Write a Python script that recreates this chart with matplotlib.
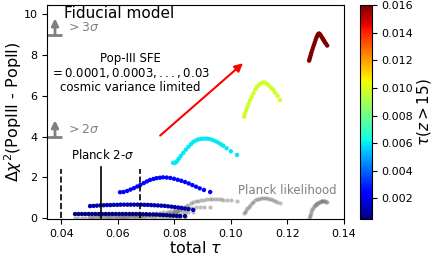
import matplotlib
matplotlib.use("Agg")
import matplotlib.pyplot as plt
import numpy as np

# SFE-series colour values tau(z>15)
series_c = [0.0005, 0.0012, 0.0025, 0.0060, 0.0098, 0.0160]

# cosmic-variance-limited series (total tau, delta chi2)
tau_cv0 = [0.0449, 0.0461, 0.0473, 0.0485, 0.0497, 0.0509, 0.0521, 0.0533, 0.0545, 0.0557,
           0.0569, 0.0581, 0.0593, 0.0605, 0.0617, 0.0629, 0.0641, 0.0653, 0.0665, 0.0677,
           0.0689, 0.0701, 0.0713, 0.0725, 0.0737, 0.0749, 0.0761, 0.0773, 0.0785, 0.0797,
           0.0809, 0.0821, 0.0838]
chi_cv0 = [0.20, 0.20, 0.20, 0.20, 0.20, 0.20, 0.20, 0.20, 0.20, 0.20,
           0.20, 0.20, 0.20, 0.20, 0.20, 0.20, 0.20, 0.20, 0.20, 0.20,
           0.19, 0.19, 0.18, 0.18, 0.17, 0.16, 0.15, 0.14, 0.13, 0.12,
           0.11, 0.10, 0.10]
tau_cv1 = [0.0502, 0.0514, 0.0526, 0.0538, 0.0550, 0.0562, 0.0574, 0.0586, 0.0598, 0.0610,
           0.0622, 0.0634, 0.0646, 0.0658, 0.0670, 0.0682, 0.0694, 0.0706, 0.0718, 0.0730,
           0.0742, 0.0754, 0.0766, 0.0778, 0.0790, 0.0802, 0.0814, 0.0826, 0.0838, 0.0850,
           0.0867]
chi_cv1 = [0.59, 0.60, 0.61, 0.62, 0.63, 0.64, 0.64, 0.65, 0.65, 0.66,
           0.66, 0.66, 0.66, 0.66, 0.66, 0.66, 0.65, 0.65, 0.64, 0.63,
           0.62, 0.61, 0.60, 0.58, 0.56, 0.54, 0.52, 0.50, 0.47, 0.44,
           0.40]
tau_cv2 = [0.0608, 0.0620, 0.0633, 0.0645, 0.0657, 0.0669, 0.0680, 0.0692, 0.0703, 0.0714,
           0.0726, 0.0737, 0.0749, 0.0760, 0.0773, 0.0786, 0.0799, 0.0812, 0.0825, 0.0838,
           0.0851, 0.0864, 0.0877, 0.0890, 0.0905, 0.0927]
chi_cv2 = [1.27, 1.28, 1.33, 1.40, 1.47, 1.55, 1.63, 1.72, 1.80, 1.87,
           1.92, 1.96, 1.98, 2.00, 1.99, 1.97, 1.93, 1.88, 1.83, 1.77,
           1.70, 1.62, 1.54, 1.46, 1.38, 1.28]
tau_cv3 = [0.0796, 0.0800, 0.0805, 0.0810, 0.0816, 0.0823, 0.0832, 0.0841, 0.0850, 0.0859,
           0.0867, 0.0876, 0.0885, 0.0895, 0.0905, 0.0915, 0.0925, 0.0935, 0.0945, 0.0955,
           0.0964, 0.0973, 0.0985, 0.1000, 0.1022]
chi_cv3 = [2.71, 2.70, 2.73, 2.80, 2.92, 3.05, 3.20, 3.36, 3.50, 3.63,
           3.74, 3.81, 3.86, 3.89, 3.90, 3.90, 3.88, 3.84, 3.78, 3.71,
           3.63, 3.55, 3.43, 3.28, 3.10]
tau_cv4 = [0.1047, 0.1050, 0.1054, 0.1058, 0.1063, 0.1068, 0.1074, 0.1080, 0.1086, 0.1093,
           0.1100, 0.1107, 0.1114, 0.1121, 0.1128, 0.1135, 0.1142, 0.1150, 0.1157, 0.1165,
           0.1174]
chi_cv4 = [4.98, 5.12, 5.28, 5.44, 5.60, 5.78, 5.95, 6.12, 6.30, 6.44,
           6.55, 6.62, 6.66, 6.65, 6.58, 6.50, 6.40, 6.30, 6.15, 6.00,
           5.80]
tau_cv5 = [0.1277, 0.1279, 0.1281, 0.1283, 0.1285, 0.1288, 0.1291, 0.1294, 0.1297, 0.1300,
           0.1303, 0.1306, 0.1309, 0.1312, 0.1315, 0.1318, 0.1321, 0.1324, 0.1327, 0.1330,
           0.1333, 0.1336, 0.1341]
chi_cv5 = [7.73, 7.82, 7.92, 8.02, 8.12, 8.25, 8.38, 8.50, 8.62, 8.75,
           8.86, 8.96, 9.03, 9.06, 9.03, 8.97, 8.90, 8.83, 8.77, 8.70,
           8.63, 8.57, 8.47]

# Planck-likelihood series (grey)
tau_pl0 = tau_cv0
chi_pl0 = [0.02, 0.02, 0.02, 0.02, 0.03, 0.03, 0.03, 0.03, 0.03, 0.03,
           0.03, 0.03, 0.03, 0.04, 0.04, 0.04, 0.04, 0.04, 0.04, 0.05,
           0.05, 0.05, 0.05, 0.05, 0.05, 0.06, 0.06, 0.06, 0.06, 0.06,
           0.06, 0.06, 0.06]
tau_pl1 = tau_cv1
chi_pl1 = [0.02, 0.02, 0.03, 0.03, 0.03, 0.04, 0.04, 0.05, 0.05, 0.06,
           0.07, 0.08, 0.09, 0.10, 0.11, 0.12, 0.13, 0.14, 0.15, 0.17,
           0.18, 0.20, 0.21, 0.23, 0.24, 0.26, 0.27, 0.28, 0.29, 0.30,
           0.30]
tau_pl2 = tau_cv2
chi_pl2 = [0.05, 0.06, 0.07, 0.08, 0.09, 0.10, 0.12, 0.14, 0.16, 0.18,
           0.20, 0.23, 0.26, 0.29, 0.32, 0.35, 0.38, 0.41, 0.44, 0.47,
           0.49, 0.51, 0.53, 0.54, 0.55, 0.54]
tau_pl3 = tau_cv3
chi_pl3 = [0.30, 0.31, 0.33, 0.36, 0.40, 0.45, 0.52, 0.59, 0.66, 0.72,
           0.78, 0.82, 0.86, 0.89, 0.91, 0.92, 0.93, 0.93, 0.93, 0.93,
           0.92, 0.91, 0.90, 0.88, 0.86]
tau_pl4 = tau_cv4
chi_pl4 = [0.25, 0.32, 0.40, 0.48, 0.56, 0.64, 0.72, 0.80, 0.87, 0.92,
           0.96, 0.99, 1.00, 1.00, 0.98, 0.96, 0.93, 0.89, 0.85, 0.80,
           0.74]
tau_pl5 = tau_cv5
chi_pl5 = [0.00, 0.08, 0.17, 0.26, 0.34, 0.44, 0.52, 0.58, 0.62, 0.64,
           0.68, 0.72, 0.76, 0.79, 0.81, 0.83, 0.84, 0.84, 0.84, 0.83,
           0.82, 0.81, 0.80]

planck_lines = [0.040, 0.054, 0.068]
planck_styles = ["--", "-", "--"]
planck_tops = [2.4, 2.5, 2.4]

sigma_levels = [4, 9]
sigma_labels = [r"$> 2\sigma$", r"$> 3\sigma$"]

xticks = [0.04, 0.06, 0.08, 0.10, 0.12, 0.14]
yticks = [0, 2, 4, 6, 8, 10]
cticks = [0.002, 0.004, 0.006, 0.008, 0.010, 0.012, 0.014, 0.016]

fig = plt.figure(figsize=(4.32, 2.59), dpi=100)
ax = fig.add_axes([0.109, 0.154, 0.687, 0.826])
cax = fig.add_axes([0.833, 0.154, 0.028, 0.826])

cmap = plt.get_cmap("jet")
norm = matplotlib.colors.Normalize(vmin=0.0005, vmax=0.016)

taus_cv = [tau_cv0, tau_cv1, tau_cv2, tau_cv3, tau_cv4, tau_cv5]
chis_cv = [chi_cv0, chi_cv1, chi_cv2, chi_cv3, chi_cv4, chi_cv5]
taus_pl = [tau_pl0, tau_pl1, tau_pl2, tau_pl3, tau_pl4, tau_pl5]
chis_pl = [chi_pl0, chi_pl1, chi_pl2, chi_pl3, chi_pl4, chi_pl5]

for t, c in zip(taus_pl, chis_pl):
    ax.scatter(t, c, s=9, color="gray", alpha=0.5, linewidths=0, zorder=2)
for t, c, cv in zip(taus_cv, chis_cv, series_c):
    ax.scatter(t, c, s=10, c=[cv] * len(t), cmap=cmap, norm=norm, linewidths=0, zorder=3)

for x, ls, top in zip(planck_lines, planck_styles, planck_tops):
    ax.plot([x, x], [0, top], color="black", ls=ls, lw=1.2, zorder=4)

for lev, lab in zip(sigma_levels, sigma_labels):
    ax.plot([0.035, 0.0403], [lev, lev], color="gray", lw=2.0, solid_capstyle="butt")
    ax.annotate("", xy=(0.0378, lev + 0.8), xytext=(0.0378, lev),
                arrowprops=dict(arrowstyle="-|>", color="gray", lw=2.0, mutation_scale=10,
                                shrinkA=0, shrinkB=0))
    ax.text(0.0417, lev + 0.33, lab, color="gray", fontsize=9, va="center", ha="left")

ax.annotate("", xy=(0.1043, 7.6), xytext=(0.0750, 4.05),
            arrowprops=dict(arrowstyle="-|>", color="red", lw=1.5, mutation_scale=12,
                            shrinkA=0, shrinkB=0))

ax.text(0.0410, 10.05, "Fiducial model", fontsize=11, va="center", ha="left")
ax.text(0.0645, 7.1, "Pop-III SFE\n" + r"$= 0.0001, 0.0003, ..., 0.03$" + "\ncosmic variance limited",
        fontsize=8.5, ha="center", va="center", linespacing=1.1)
ax.text(0.0433, 3.1, r"Planck 2-$\sigma$", fontsize=8.5, ha="left", va="center")
ax.text(0.1026, 1.33, "Planck likelihood", fontsize=8.5, ha="left", va="center", color="gray")

ax.set_xlim(0.035, 0.14)
ax.set_ylim(-0.05, 10.45)
ax.set_xticks(xticks)
ax.set_xticklabels(["%.2f" % v for v in xticks])
ax.set_yticks(yticks)
ax.tick_params(labelsize=8)
ax.set_xlabel(r"total $\tau$", fontsize=11.5, labelpad=1)
ax.set_ylabel(r"$\Delta\chi^2$(PopIII - PopII)", fontsize=11.5)
ax.yaxis.set_label_coords(-0.078, 0.5)

sm = matplotlib.cm.ScalarMappable(norm=norm, cmap=cmap)
cb = fig.colorbar(sm, cax=cax, ticks=cticks)
cb.ax.set_yticklabels(["%.3f" % v for v in cticks])
cb.ax.tick_params(labelsize=8)
cb.set_label(r"$\tau(z > 15)$", fontsize=11, labelpad=1)

fig.savefig("out.png", dpi=100)
